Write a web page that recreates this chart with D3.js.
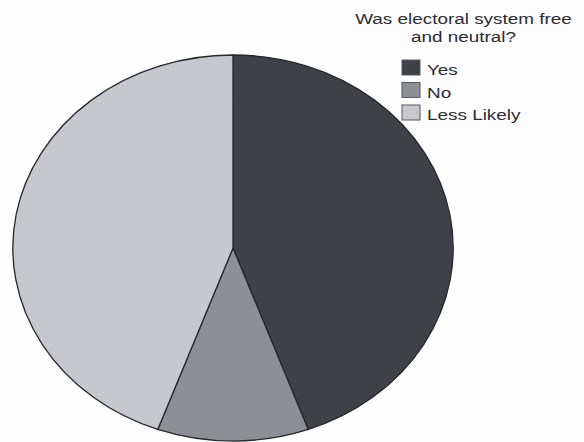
<!DOCTYPE html>
<html>
<head>
<meta charset="utf-8">
<script src="https://cdn.jsdelivr.net/npm/d3@7"></script>
<style>
  html, body { margin: 0; padding: 0; background: #fdfdfd; }
  svg { display: block; }
  text { font-family: "Liberation Sans", Arial, sans-serif; fill: #2b2d31; }
</style>
</head>
<body>
<script>
// Survey answers: "Was electoral system free and neutral?"
const categories = ["Yes", "No", "Less Likely"];
const counts = [40, 10, 40];
const titleLines = ["Was electoral system free", "and neutral?"];
const sliceColors = ["#3e4146", "#8c8f94", "#c6c8cd"];

const W = 584, H = 442;
const svg = d3.select("body").append("svg").attr("width", W).attr("height", H);

const color = d3.scaleOrdinal().domain(categories).range(sliceColors);

// Pie laid out on a unit circle, then stretched into the oval frame
const cx = 233, cy = 248, rx = 220, ry = 193;
const pie = d3.pie().sort(null).value(d => d.v);
const arc = d3.arc().innerRadius(0).outerRadius(1);
const data = categories.map((c, i) => ({ c, v: counts[i] }));

const g = svg.append("g").attr("transform", `translate(${cx},${cy}) scale(${rx},${ry})`);
g.selectAll("path")
  .data(pie(data))
  .join("path")
  .attr("d", arc)
  .attr("fill", d => color(d.data.c))
  .attr("stroke", "#26282c")
  .attr("stroke-width", 1.3)
  .attr("vector-effect", "non-scaling-stroke");

// Title, centred above the legend (text is slightly wide)
const sx = 1.22;
const titleX = 463.5;
const title = svg.append("g").attr("transform", `translate(${titleX},0) scale(${sx},1)`);
title.selectAll("text")
  .data(titleLines)
  .join("text")
  .attr("x", 0)
  .attr("y", (d, i) => 24 + i * 18)
  .attr("text-anchor", "middle")
  .attr("font-size", 15.5)
  .text(d => d);

// Legend
const legendY = d3.scalePoint().domain(categories).range([60, 105]);
const legend = svg.append("g");
const items = legend.selectAll("g")
  .data(categories)
  .join("g")
  .attr("transform", d => `translate(402,${legendY(d)})`);
items.append("rect")
  .attr("width", 18)
  .attr("height", 15)
  .attr("fill", d => color(d))
  .attr("stroke", "#55585d")
  .attr("stroke-width", 1);
items.append("text")
  .attr("transform", `translate(25,15) scale(${sx},1)`)
  .attr("font-size", 15.5)
  .text(d => d);
</script>
</body>
</html>
